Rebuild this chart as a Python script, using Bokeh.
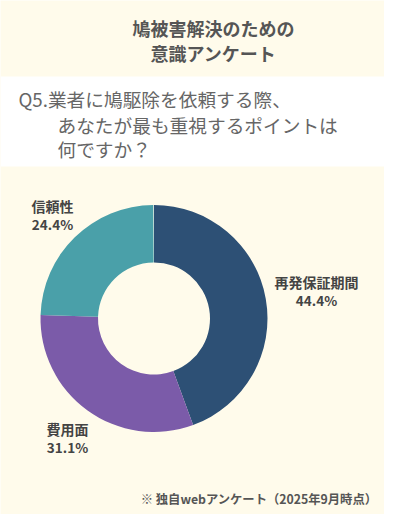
import math
from bokeh.plotting import figure
from bokeh.models import Range1d
from bokeh.core.properties import value
from bokeh.embed import file_html
from bokeh.resources import INLINE

# data
categories = ['再発保証期間', '費用面', '信頼性']
shares = [44.4, 31.1, 24.4]
colors = ['#2d5075', '#7b5ba9', '#4aa0a9']

title_lines = ['鳩被害解決のための', '意識アンケート']
question_lines = ['Q5.業者に鳩駆除を依頼する際、', 'あなたが最も重視するポイントは', '何ですか？']
footnote = '※ 独自webアンケート（2025年9月時点）'

W, H = 400, 530
FONT = value('Noto Sans CJK JP')
BG = '#fffbeb'


def fy(y):
    # picture rows run downwards, data y upwards
    return H - y


p = figure(width=384, height=514, output_backend='svg', toolbar_location=None,
           x_range=Range1d(0, 384), y_range=Range1d(H - 514, H), min_border=0)
p.axis.visible = False
p.grid.grid_line_color = None
p.outline_line_color = None
p.background_fill_color = BG
p.border_fill_color = BG

# white band behind the question
p.quad(left=0, right=W, bottom=fy(166), top=fy(76), fill_color='white', line_color=None)

# title
p.text(x=[213, 213], y=[fy(27), fy(52)], text=title_lines, text_font=FONT,
       text_font_size='18px', text_font_style='bold', text_color='#555555',
       text_align='center', text_baseline='middle')

# question
p.text(x=[18, 57, 57], y=[fy(98), fy(124), fy(148)], text=question_lines, text_font=FONT,
       text_font_size='18.7px', text_color='#666666',
       text_align='left', text_baseline='middle')

# donut
cx, cy = 153.5, fy(318)
starts, ends = [], []
a = math.pi / 2
for s in shares:
    e = a - s / 100 * 2 * math.pi
    starts.append(e)
    ends.append(a)
    a = e
p.annular_wedge(x=cx, y=cy, inner_radius=56, outer_radius=113.5,
                start_angle=starts, end_angle=ends, fill_color=colors, line_color=None)

# labels
lab_x = [316, 67, 52]
lab_y = [281, 428, 205]
p.text(x=lab_x, y=[fy(v) for v in lab_y], text=categories, text_font=FONT,
       text_font_size='14px', text_font_style='bold', text_color='#444444',
       text_align='center', text_baseline='middle')
p.text(x=lab_x, y=[fy(v + 18.5) for v in lab_y], text=['%.1f%%' % s for s in shares],
       text_font=FONT, text_font_size='13.5px', text_font_style='bold', text_color='#444444',
       text_align='center', text_baseline='middle')

# footnote
p.text(x=[377], y=[fy(498)], text=[footnote], text_font=FONT,
       text_font_size='12.3px', text_font_style='bold', text_color='#555555',
       text_align='right', text_baseline='middle')

open('out.html', 'w').write(file_html(p, INLINE))
